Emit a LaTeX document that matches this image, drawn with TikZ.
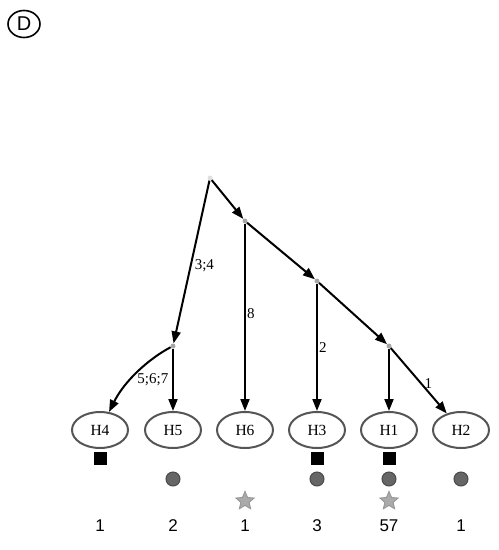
\documentclass[tikz,border=0pt]{standalone}
\usepackage{fontspec}
\setmainfont{Liberation Serif}
\setsansfont{Liberation Sans}
\usetikzlibrary{shapes.geometric,arrows.meta}
\definecolor{leafline}{HTML}{555555}
\definecolor{dotgray}{HTML}{666666}
\definecolor{dotedge}{HTML}{4A4A4A}
\definecolor{stargray}{HTML}{AAAAAA}
\definecolor{staredge}{HTML}{999999}
\begin{document}
\begin{tikzpicture}[x=1pt,y=-1pt,
  leaf/.style={ellipse,draw=leafline,line width=2pt,minimum width=56pt,minimum height=36pt,inner sep=0pt,font=\fontsize{15.5}{15.5}\selectfont},
  branch/.style={circle,fill=gray!70,inner sep=0pt,minimum size=5pt},
  rootpt/.style={circle,fill=gray!25,inner sep=0pt,minimum size=5pt},
  edge/.style={line width=2pt,-{Triangle[length=12pt,width=9pt]}},
  elabel/.style={font=\fontsize{15}{15}\selectfont,inner sep=1pt},
  sqmark/.style={rectangle,fill=black,minimum size=13pt,inner sep=0pt},
  dotmark/.style={circle,fill=dotgray,draw=dotedge,line width=1pt,minimum size=14pt,inner sep=0pt},
  starmark/.style={star,star points=5,star point ratio=2.2,fill=stargray,draw=staredge,line width=1pt,minimum size=19pt,inner sep=0pt},
  count/.style={font=\sffamily\fontsize{17}{17}\selectfont}
]
\useasboundingbox (0,0) rectangle (499,550);

% panel letter
\node[ellipse,draw,line width=1.6pt,minimum width=32pt,minimum height=27pt,inner sep=0pt,font=\sffamily\fontsize{20}{20}\selectfont] (panel) at (24,24) {D};

% inner points of the tree
\node[rootpt] (r) at (210,178) {};
\node[branch] (a) at (245,221) {};
\node[branch] (b) at (317,281) {};
\node[branch] (c) at (389,346) {};
\node[branch] (d) at (173,346) {};

% leaves
\node[leaf] (H4) at (100,430) {H4};
\node[leaf] (H5) at (173,430) {H5};
\node[leaf] (H6) at (245,430) {H6};
\node[leaf] (H3) at (317,430) {H3};
\node[leaf] (H1) at (389,430) {H1};
\node[leaf] (H2) at (461,430) {H2};

% edges
\draw[edge] (r) -- (a);
\draw[edge] (a) -- (b);
\draw[edge] (b) -- (c);
\draw[edge] (r) -- node[elabel,pos=0.52,right=2pt] {3;4} (d);
\draw[edge] (a) -- node[elabel,pos=0.48,right=0pt] {8} (H6);
\draw[edge] (b) -- node[elabel,pos=0.5,right=0pt] {2} (H3);
\draw[edge] (c) -- (H1);
\draw[edge] (c) -- node[elabel,pos=0.55,right=1pt] {1} (H2);
\draw[edge] (d) -- (H5);
\draw[edge] (d) .. controls (150,358) and (125,380) .. node[elabel,pos=0.62,right=5pt] {5;6;7} (H4);

% markers below the leaves
\node[sqmark] (s4) at (100,458) {};
\node[sqmark] (s3) at (317,458) {};
\node[sqmark] (s1) at (389,458) {};
\node[dotmark] (c5) at (173,479) {};
\node[dotmark] (c3) at (317,479) {};
\node[dotmark] (c1) at (389,479) {};
\node[dotmark] (c2) at (461,479) {};
\node[starmark] (t6) at (245,501) {};
\node[starmark] (t1) at (389,501) {};

% counts
\node[count] (n4) at (100,526) {1};
\node[count] (n5) at (173,526) {2};
\node[count] (n6) at (245,526) {1};
\node[count] (n3) at (317,526) {3};
\node[count] (n1) at (389,526) {57};
\node[count] (n2) at (461,526) {1};
\end{tikzpicture}
\end{document}
